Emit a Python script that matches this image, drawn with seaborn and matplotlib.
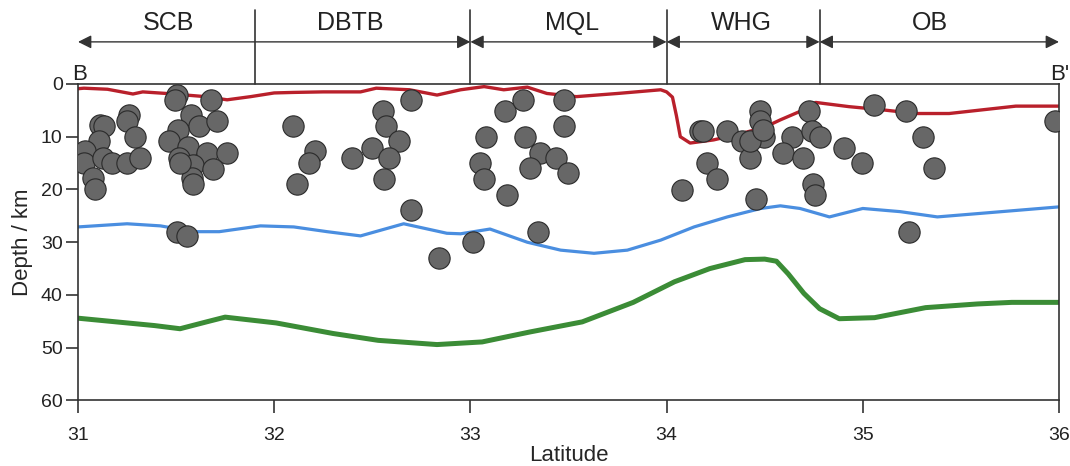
import matplotlib
matplotlib.use("Agg")
import matplotlib.pyplot as plt
import matplotlib.transforms as mtransforms
import seaborn as sns
import pandas as pd

# ---------------- data ----------------
quake_lat = [31.503, 31.494, 31.678, 31.261, 31.248, 31.576, 31.112, 31.134, 31.617, 31.710,
             32.097, 31.289, 31.508, 31.465, 31.109, 31.562, 31.036, 31.031, 31.129, 31.172,
             31.248, 31.316, 31.516, 31.656, 31.758, 31.588, 31.690, 31.580, 31.585, 31.078,
             31.087, 32.208, 32.179, 32.115, 32.395, 31.506, 31.554, 32.497, 32.556, 32.568,
             32.636, 32.587, 32.560, 32.697, 32.697, 32.840, 33.015, 33.080, 33.049, 33.069,
             33.185, 33.178, 33.267, 33.278, 33.355, 33.436, 33.304, 33.496, 33.477, 33.477,
             33.346, 34.077, 34.170, 34.187, 34.306, 34.207, 34.258, 34.476, 34.476, 34.497,
             34.383, 34.425, 34.456, 34.425, 34.638, 34.595, 34.697, 34.727, 34.740, 34.782,
             34.748, 34.756, 34.906, 34.997, 35.057, 35.219, 35.305, 35.364, 35.237, 35.980,
             34.490, 31.520]
quake_depth = [2.1, 3.0, 3.0, 5.9, 7.0, 5.9, 7.8, 7.9, 8.0, 7.1,
               7.9, 10.1, 8.7, 10.9, 10.9, 11.9, 12.8, 14.9, 14.1, 14.9,
               14.9, 14.1, 14.1, 13.0, 13.0, 15.4, 16.1, 17.9, 19.0, 17.9,
               20.0, 12.8, 14.9, 19.0, 14.1, 28.0, 28.9, 12.1, 5.1, 8.0,
               10.9, 14.1, 18.0, 3.0, 23.9, 32.9, 30.0, 10.0, 14.9, 18.0,
               21.0, 5.1, 3.0, 10.0, 13.0, 14.1, 16.0, 16.9, 3.0, 8.0,
               28.0, 20.1, 9.0, 9.0, 9.0, 14.9, 18.0, 5.1, 7.1, 10.0,
               10.9, 14.1, 21.9, 10.9, 10.0, 13.0, 14.1, 5.1, 9.0, 10.0,
               19.0, 21.0, 12.1, 14.9, 4.0, 5.1, 10.0, 16.0, 28.0, 7.1,
               8.7, 15.0]

# upper boundary (red)
red_lat = [31.00, 31.03, 31.15, 31.28, 31.33, 31.45, 31.55, 31.65, 31.76, 31.88, 32.00,
           32.10, 32.25, 32.44, 32.52, 32.69, 32.83, 32.95, 33.07, 33.17, 33.29, 33.39,
           33.54, 33.75, 33.97, 34.00, 34.03, 34.05, 34.07, 34.12, 34.24, 34.39, 34.50,
           34.58, 34.68, 34.76, 34.93, 35.10, 35.27, 35.44, 35.61, 35.78, 36.00]
red_depth = [0.9, 0.8, 1.0, 1.9, 1.5, 1.8, 2.1, 2.4, 3.0, 2.4, 1.7,
             1.6, 1.5, 1.5, 0.8, 1.1, 2.1, 1.1, 0.5, 1.1, 0.6, 1.8,
             2.4, 1.8, 1.1, 1.5, 2.5, 6.0, 10.0, 11.2, 10.6, 9.3, 8.2,
             6.8, 5.2, 3.5, 4.3, 4.9, 5.6, 5.6, 4.9, 4.2, 4.2]

# middle boundary (blue)
blue_lat = [31.00, 31.25, 31.42, 31.59, 31.72, 31.93, 32.10, 32.27, 32.44, 32.66, 32.88,
            32.95, 33.10, 33.29, 33.46, 33.63, 33.80, 33.97, 34.14, 34.31, 34.48, 34.58,
            34.68, 34.83, 35.00, 35.19, 35.38, 35.61, 36.00]
blue_depth = [27.1, 26.5, 26.9, 28.0, 28.0, 26.9, 27.1, 28.0, 28.8, 26.5, 28.3,
              28.4, 27.5, 30.0, 31.5, 32.1, 31.5, 29.6, 27.1, 25.2, 23.6, 23.1,
              23.6, 25.2, 23.6, 24.2, 25.2, 24.5, 23.3]

# lower boundary (green)
green_lat = [31.00, 31.39, 31.52, 31.655, 31.75, 32.01, 32.30, 32.53, 32.83, 33.06, 33.305,
             33.57, 33.83, 34.04, 34.22, 34.40, 34.50, 34.56, 34.62, 34.70, 34.78, 34.88,
             35.06, 35.32, 35.585, 35.76, 36.00]
green_depth = [44.4, 45.8, 46.4, 45.1, 44.2, 45.3, 47.3, 48.6, 49.4, 48.9, 47.0,
               45.1, 41.4, 37.5, 35.0, 33.3, 33.2, 33.6, 36.0, 39.7, 42.6, 44.5,
               44.3, 42.4, 41.7, 41.4, 41.4]

region_names = ["SCB", "DBTB", "MQL", "WHG", "OB"]
region_label_lat = [31.46, 32.39, 33.52, 34.38, 35.34]
region_bounds = [31.9, 33.0, 34.0, 34.78]
arrow_start = [31.0, 33.0, 34.0, 34.78]
arrow_end = [33.0, 34.0, 34.78, 36.0]

x_ticks = [31, 32, 33, 34, 35, 36]
y_ticks = [0, 10, 20, 30, 40, 50, 60]

# ---------------- style ----------------
sns.set_style("ticks")
plt.rcParams['font.family'] = ['Liberation Sans', 'DejaVu Sans']

fig = plt.figure(figsize=(10.7, 4.66), dpi=100)
ax = fig.add_axes([0.0729, 0.1406, 0.9168, 0.6792])

quakes = pd.DataFrame({"lat": quake_lat, "depth": quake_depth})

line_kw = dict(sort=False, estimator=None, zorder=2,
               solid_joinstyle="round", solid_capstyle="round")
sns.lineplot(x=red_lat, y=red_depth, ax=ax, color="#b9202b", lw=2.4, **line_kw)
sns.lineplot(x=blue_lat, y=blue_depth, ax=ax, color="#4a8ee0", lw=2.3, **line_kw)
sns.lineplot(x=green_lat, y=green_depth, ax=ax, color="#3b8c36", lw=3.6, **line_kw)
sns.scatterplot(data=quakes, x="lat", y="depth", ax=ax, s=235,
                color="#676767", edgecolor="#2a2a2a", linewidth=0.8, zorder=5)

ax.set_xlim(31, 36)
ax.set_ylim(60, 0)
ax.set_xticks(x_ticks)
ax.set_yticks(y_ticks)
ax.set_xlabel("Latitude", fontsize=16, labelpad=1)
ax.set_ylabel("Depth / km", fontsize=16, labelpad=6)
ax.tick_params(axis="both", labelsize=14, length=9, width=1.2,
               direction="out", color="#333333", labelcolor="#222222")
ax.tick_params(axis="x", pad=10)
ax.tick_params(axis="y", pad=2)
for sp in ax.spines.values():
    sp.set_visible(True)
    sp.set_linewidth(1.2)
    sp.set_color("#333333")

# ---------------- annotations above the axes ----------------
trans = mtransforms.blended_transform_factory(ax.transData, ax.transAxes)
for b in region_bounds:
    ax.plot([b, b], [1.0, 1.234], transform=trans, color="#333333",
            lw=1.2, clip_on=False)
for x0, x1 in zip(arrow_start, arrow_end):
    ax.annotate("", xy=(x1, 1.133), xytext=(x0, 1.133), xycoords=trans,
                textcoords=trans, annotation_clip=False,
                arrowprops=dict(arrowstyle="<|-|>", color="#333333", lw=1.0,
                                mutation_scale=20, shrinkA=0, shrinkB=0))
for name, lx in zip(region_names, region_label_lat):
    ax.text(lx, 1.193, name, transform=trans, ha="center", va="center",
            fontsize=18, color="#222222")

ax.text(30.97, 1.013, "B", transform=trans, ha="left", va="baseline",
        fontsize=16, color="#222222")
ax.text(35.955, 1.013, "B'", transform=trans, ha="left", va="baseline",
        fontsize=16, color="#222222", clip_on=False)

fig.savefig("out.png", dpi=100)
